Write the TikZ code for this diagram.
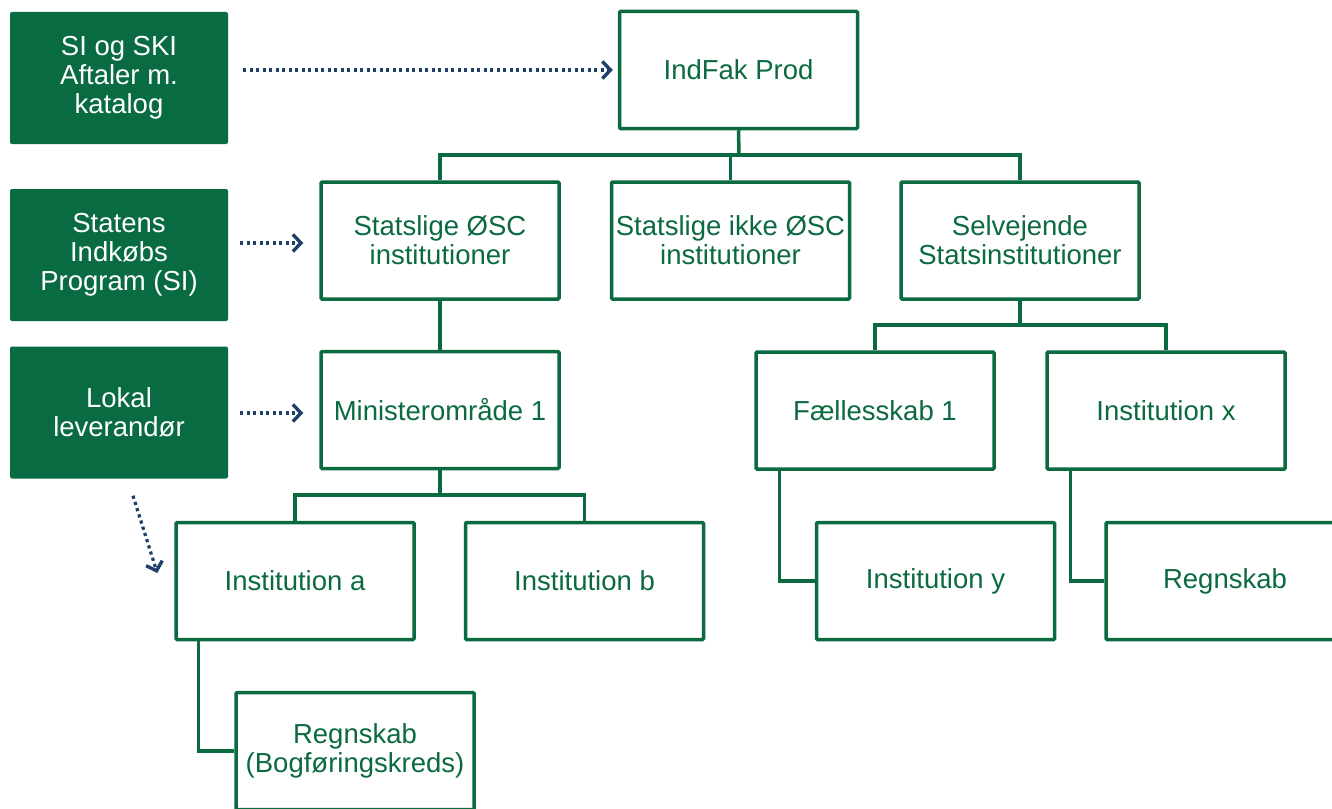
\documentclass[tikz,border=0pt]{standalone}
\usepackage{fontspec}
\setmainfont{Liberation Sans}
\usetikzlibrary{arrows.meta,calc}
\definecolor{gline}{HTML}{0B6A3F}
\definecolor{gfill}{HTML}{096B41}
\definecolor{navy}{HTML}{1F3F6B}
\begin{document}
\begin{tikzpicture}[x=1pt,y=-1pt,
  orgbox/.style={draw=gline,line width=3.5pt,fill=white,rounded corners=1pt,minimum width=238pt,minimum height=117pt,inner sep=0pt,align=center,text=gline,font=\fontsize{27.5}{29}\selectfont},
  srcbox/.style={fill=gfill,rounded corners=2pt,minimum width=218pt,minimum height=132pt,inner sep=0pt,align=center,text=white,font=\fontsize{27.5}{29}\selectfont},
  link/.style={draw=gline,line width=3.5pt},
  arr/.style={draw=navy,line width=3.2pt,dash pattern=on 3.2pt off 3.3pt,-{Straight Barb[length=8pt,width=17pt,line width=3.4pt]}}]
\useasboundingbox (0,0) rectangle (1332,808);
\clip (0,0) rectangle (1332,808);
% source boxes
\node[srcbox] (g1) at (119,78) {SI og SKI\\Aftaler m.\\katalog};
\node[srcbox] (g2) at (119,255) {Statens\\Indkøbs\\Program (SI)};
\node[srcbox] (g3) at (119,412.5) {Lokal\\leverandør};
% bus points
\coordinate (b1) at (739,155);
\coordinate (b2) at (1020,325);
\coordinate (b3) at (440,495);
% org boxes
\node[orgbox] (ind) at (738.5,70) {IndFak Prod};
\node[orgbox] (s1) at (440,240.5) {Statslige ØSC\\institutioner};
\node[orgbox] (s2) at (730.5,240.5) {Statslige ikke ØSC\\institutioner};
\node[orgbox] (s3) at (1020,240.5) {Selvejende\\Statsinstitutioner};
\node[orgbox] (min) at (440,410) {Ministerområde 1};
\node[orgbox] (fae) at (875,410.5) {Fællesskab 1};
\node[orgbox] (ix) at (1166,410.5) {Institution x};
\node[orgbox] (ia) at (295,581) {Institution a};
\node[orgbox] (ib) at (584.5,581) {Institution b};
\node[orgbox] (iy) at (935.5,581) {Institution y};
\node[orgbox] (rg) at (1225,581) {Regnskab};
\node[orgbox] (rb) at (355,751) {Regnskab\\(Bogføringskreds)};
% tree lines
\draw[link] (ind.south) -- (b1);
\draw[link] (s1.north) |- (b1) -| (s3.north);
\draw[link] (s2.north) -- (s2.north |- b1);
\draw[link] (s1.south) -- (min.north);
\draw[link] (s3.south) -- (b2);
\draw[link] (fae.north) |- (b2) -| (ix.north);
\draw[link] (min.south) -- (b3);
\draw[link] (ia.north) |- (b3) -| (ib.north);
\draw[link] ($(fae.south west)+(25,0)$) |- (iy.west);
\draw[link] ($(ix.south west)+(25,0)$) |- (rg.west);
\draw[link] ($(ia.south west)+(24,0)$) |- (rb.west);
% arrows
\draw[arr] ($(g1.east)+(15,-8)$) -- ($(ind.west)+(-5,0)$);
\draw[arr] ($(g2.east |- s1.west)+(12,2.5)$) -- ($(s1.west)+(-16,2.5)$);
\draw[arr] ($(g3.east |- min.west)+(12,3)$) -- ($(min.west)+(-16,3)$);
\draw[arr] ($(g3.south)+(14,17)$) -- ($(ia.west)+(-17,-8)$);
\end{tikzpicture}
\end{document}
